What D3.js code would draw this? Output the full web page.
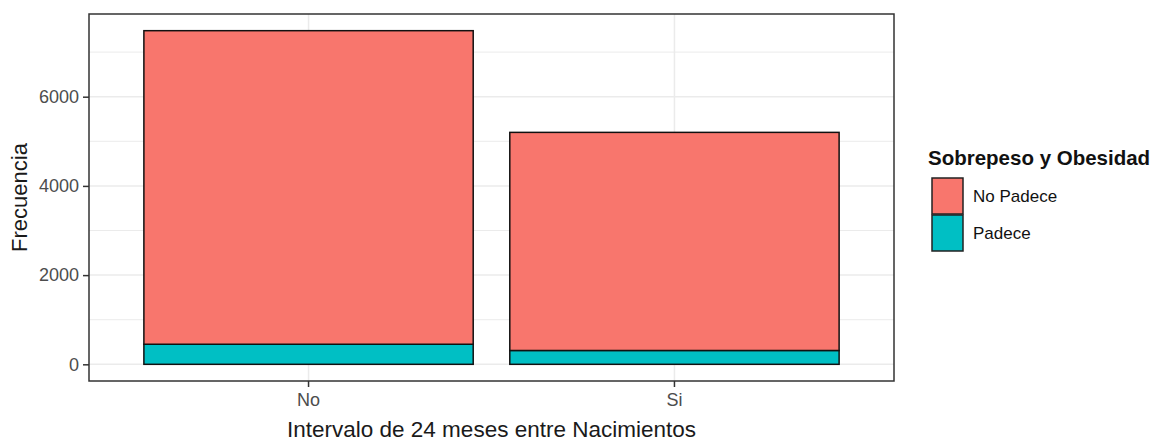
<!DOCTYPE html>
<html>
<head>
<meta charset="utf-8">
<script src="https://cdn.jsdelivr.net/npm/d3@7"></script>
<style>
    body { margin: 0; background: #fff; }
    svg { font-family: "Liberation Sans", Arial, sans-serif; }
</style>
</head>
<body>
<svg id="chart" width="1162" height="442"></svg>
<script>
// data
var categories = ["No", "Si"];
var noPadece = [7030, 4890];
var padece = [450, 310];
var groups = ["No Padece", "Padece"];
var colors = ["#F8766D", "#00BFC4"];
var yTicks = [0, 2000, 4000, 6000];
var yMinor = [1000, 3000, 5000, 7000];

var svg = d3.select('#chart');
var margin = {top: 14, right: 268, bottom: 61, left: 89};
var W = 1162 - margin.left - margin.right;
var H = 442 - margin.top - margin.bottom;

var rows = categories.map(function(c, i) {
    return {cat: c, "No Padece": noPadece[i], "Padece": padece[i]};
});
var maxTot = d3.max(rows, function(d) { return d["No Padece"] + d["Padece"]; });

var x = d3.scaleBand().domain(categories).range([0, W])
    .paddingInner(0.1).paddingOuter(0.15);
var y = d3.scaleLinear().domain([-0.05 * maxTot, maxTot * 1.05]).range([H, 0]);
var z = d3.scaleOrdinal().domain(groups).range(colors);

var g = svg.append("g")
    .attr("transform", "translate(" + margin.left + "," + margin.top + ")");

// grid
g.selectAll(".minor").data(yMinor).enter().append("line")
    .attr("x1", 0).attr("x2", W)
    .attr("y1", function(d) { return y(d); }).attr("y2", function(d) { return y(d); })
    .style("stroke", "#ebebeb").style("stroke-width", 1);
g.selectAll(".major").data(yTicks).enter().append("line")
    .attr("x1", 0).attr("x2", W)
    .attr("y1", function(d) { return y(d); }).attr("y2", function(d) { return y(d); })
    .style("stroke", "#ebebeb").style("stroke-width", 1.5);
g.selectAll(".vmajor").data(categories).enter().append("line")
    .attr("y1", 0).attr("y2", H)
    .attr("x1", function(d) { return x(d) + x.bandwidth() / 2; })
    .attr("x2", function(d) { return x(d) + x.bandwidth() / 2; })
    .style("stroke", "#ebebeb").style("stroke-width", 1.5);

// bars (Padece at the bottom)
var stack = d3.stack().keys(["Padece", "No Padece"]);
var layer = g.selectAll(".layer")
    .data(stack(rows))
    .enter().append("g")
    .attr("class", "layer")
    .style("fill", function(d) { return z(d.key); });

layer.selectAll("rect")
    .data(function(d) { return d; })
    .enter().append("rect")
    .attr("x", function(d) { return x(d.data.cat); })
    .attr("width", x.bandwidth())
    .attr("y", function(d) { return y(d[1]); })
    .attr("height", function(d) { return y(d[0]) - y(d[1]); })
    .style("stroke", "#111")
    .style("stroke-width", 1.5);

// panel border
g.append("rect")
    .attr("width", W).attr("height", H)
    .style("fill", "none").style("stroke", "#333").style("stroke-width", 1.5);

// axes
var yAxis = g.append("g").call(d3.axisLeft(y).tickValues(yTicks).tickFormat(d3.format("d"))
    .tickSize(6).tickPadding(4));
var xAxis = g.append("g").attr("transform", "translate(0," + H + ")")
    .call(d3.axisBottom(x).tickSize(6).tickPadding(6));
[yAxis, xAxis].forEach(function(a) {
    a.select(".domain").remove();
    a.selectAll(".tick line").style("stroke", "#333").style("stroke-width", 1.5);
    a.selectAll(".tick text").style("fill", "#4d4d4d").style("font-size", "18px")
        .style("font-family", "'Liberation Sans', Arial, sans-serif");
});

// axis titles
svg.append("text")
    .attr("x", margin.left + W / 2).attr("y", 437)
    .attr("text-anchor", "middle")
    .style("font-size", "22.5px").style("fill", "#1a1a1a")
    .text("Intervalo de 24 meses entre Nacimientos");

svg.append("text")
    .attr("transform", "translate(27," + (margin.top + H / 2) + ") rotate(-90)")
    .attr("text-anchor", "middle")
    .style("font-size", "22px").style("fill", "#1a1a1a")
    .text("Frecuencia");

// legend
var leg = svg.append("g").attr("transform", "translate(928,0)");
leg.append("text")
    .attr("x", 0).attr("y", 165)
    .style("font-size", "20.5px").style("font-weight", "bold").style("fill", "#111")
    .text("Sobrepeso y Obesidad");

var item = leg.selectAll(".item").data(groups).enter().append("g")
    .attr("transform", function(d, i) { return "translate(4," + (178 + i * 37) + ")"; });
item.append("rect")
    .attr("width", 31).attr("height", 36)
    .style("fill", function(d) { return z(d); })
    .style("stroke", "#222").style("stroke-width", 1.5);
item.append("text")
    .attr("x", 41).attr("y", 18).attr("dy", "0.35em")
    .style("font-size", "17px").style("fill", "#111")
    .text(function(d) { return d; });
</script>
</body>
</html>
